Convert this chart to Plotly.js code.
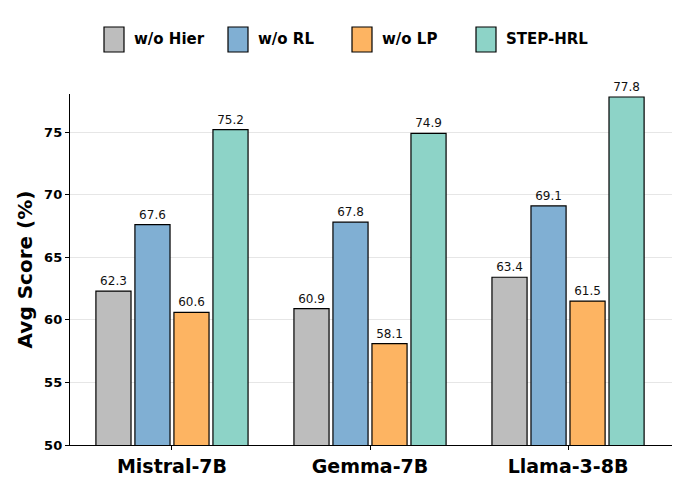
<!DOCTYPE html>
<html><head><meta charset="utf-8">
<script src="https://cdn.plot.ly/plotly-3.0.1.min.js"></script>
<style>html,body{margin:0;padding:0;background:#fff}#c{width:686px;height:496px}</style>
</head><body><div id="c"></div>
<script>
var categories = ["Mistral-7B", "Gemma-7B", "Llama-3-8B"];
var seriesNames = ["w/o Hier", "w/o RL", "w/o LP", "STEP-HRL"];
var woHier = [62.3, 60.9, 63.4];
var woRL = [67.6, 67.8, 69.1];
var woLP = [60.6, 58.1, 61.5];
var stepHRL = [75.2, 74.9, 77.8];
var colors = ["#bdbdbd", "#80afd3", "#fdb462", "#8dd3c7"];
var yTicks = [50, 55, 60, 65, 70, 75];

var allVals = [woHier, woRL, woLP, stepHRL];
var font = "DejaVu Sans, sans-serif";
var traces = allVals.map(function(v, i){
  return {
    type: "bar", name: seriesNames[i], x: categories, y: v,
    marker: {color: colors[i], line: {color: "#000", width: 1.2}},
    text: v.map(function(d){return d.toFixed(1);}),
    textposition: "outside", cliponaxis: false,
    textfont: {family: font, size: 12, color: "#111"},
    showlegend: false, hoverinfo: "x+y"
  };
});

var L = 70, W = 602, B = 445, H = 351;
function px(x){ return (x - L) / W; }
function py(y){ return (B - y) / H; }
var shapes = [], annotations = [];
var legX = [104, 228, 352, 476];
seriesNames.forEach(function(n, i){
  shapes.push({type: "rect", xref: "paper", yref: "paper",
    x0: px(legX[i]), x1: px(legX[i] + 20),
    y0: py(52), y1: py(27),
    fillcolor: colors[i], line: {color: "#000", width: 1.2}});
  annotations.push({xref: "paper", yref: "paper", x: px(legX[i] + 28), y: py(39.5),
    xanchor: "left", yanchor: "middle", showarrow: false, text: "<b>" + n + "</b>",
    font: {family: font, size: 15, color: "#000"}});
});

var layout = {
  width: 686, height: 496,
  margin: {l: L, r: 686 - L - W, t: 94, b: 496 - B},
  paper_bgcolor: "#fff", plot_bgcolor: "#fff",
  barmode: "group", bargap: 0.212, bargroupgap: 0.1,
  showlegend: false,
  font: {family: font, color: "#000"},
  xaxis: {
    range: [-0.515, 2.525], showline: true, linecolor: "#000", linewidth: 1.2,
    ticks: "outside", ticklen: 4, tickcolor: "#000", showgrid: false,
    tickfont: {family: font, size: 19, color: "#000", weight: "bold"},
    fixedrange: true
  },
  yaxis: {
    range: [50, 78.04], tickvals: yTicks, ticktext: yTicks.map(String),
    showline: true, linecolor: "#000", linewidth: 1.2,
    ticks: "outside", ticklen: 4, tickcolor: "#000",
    showgrid: true, gridcolor: "#e6e6e6", gridwidth: 1, zeroline: false,
    tickfont: {family: font, size: 13, color: "#000", weight: "bold"},
    title: {text: "<b>Avg Score (%)</b>", font: {family: font, size: 20, color: "#000"}, standoff: 6},
    fixedrange: true
  },
  shapes: shapes, annotations: annotations
};
Plotly.newPlot("c", traces, layout, {displayModeBar: false, staticPlot: true});
</script></body></html>
